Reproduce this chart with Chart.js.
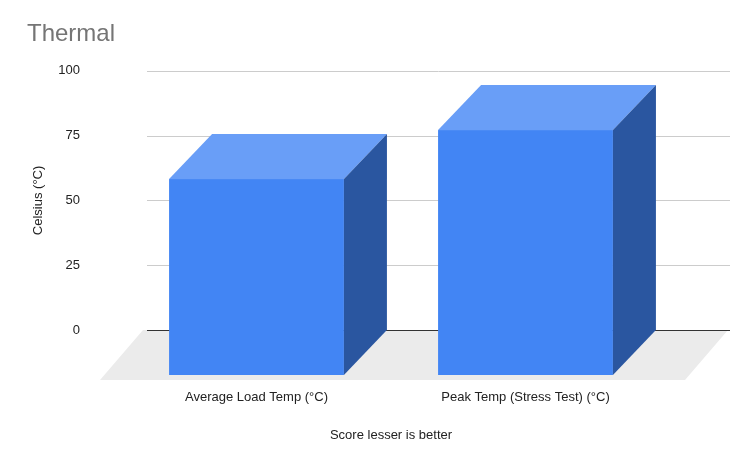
<!DOCTYPE html>
<html>
<head>
<meta charset="utf-8">
<script src="https://cdn.jsdelivr.net/npm/chart.js@4"></script>
<style>
  body { margin: 0; background: #fff; }
  #wrap { width: 754px; height: 468px; }
</style>
</head>
<body>
<div id="wrap"><canvas id="thermal"></canvas></div>
<script>
const categories = ['Average Load Temp (°C)', 'Peak Temp (Stress Test) (°C)'];
const temps = [60, 75];
const yTicks = [0, 25, 50, 75, 100];

const FRONT = '#4285f4', TOP = '#699ef7', SIDE = '#2a56a0';
const DX = 43, DY = 45, FRONT_SCALE = 1.26;

// floor, back grid lines and the 3d bars, all from the chart's scales
const fake3d = {
  id: 'fake3d',
  beforeDatasetsDraw(chart) {
    const c = chart.ctx, a = chart.chartArea, y = chart.scales.y;
    c.save();
    c.fillStyle = '#ebebeb';
    c.beginPath();
    c.moveTo(a.left - 22, a.bottom + 50);
    c.lineTo(a.right + 25, a.bottom + 50);
    c.lineTo(a.right + 25 + DX, a.bottom);
    c.lineTo(a.left - 22 + DX, a.bottom);
    c.closePath();
    c.fill();
    for (const t of yTicks) {
      const py = Math.round(y.getPixelForValue(t)) + 0.5;
      c.strokeStyle = t === 0 ? '#333333' : '#cccccc';
      c.lineWidth = 1;
      c.beginPath();
      c.moveTo(a.left + 25, py);
      c.lineTo(a.right + 70, py);
      c.stroke();
    }
    c.restore();
  },
  afterDatasetsDraw(chart) {
    const c = chart.ctx, y = chart.scales.y, a = chart.chartArea;
    const meta = chart.getDatasetMeta(0);
    c.save();
    meta.data.forEach((bar) => {
      const w = bar.width;
      const x0 = bar.x - w / 2, x1 = bar.x + w / 2;
      const base = a.bottom + DY;
      const top = base - (y.getPixelForValue(0) - bar.y) * FRONT_SCALE;
      c.fillStyle = FRONT;
      c.fillRect(x0, top, w, base - top);
      c.fillStyle = TOP;
      c.beginPath();
      c.moveTo(x0, top); c.lineTo(x1, top);
      c.lineTo(x1 + DX, top - DY); c.lineTo(x0 + DX, top - DY);
      c.closePath(); c.fill();
      c.fillStyle = SIDE;
      c.beginPath();
      c.moveTo(x1, top); c.lineTo(x1 + DX, top - DY);
      c.lineTo(x1 + DX, base - DY); c.lineTo(x1, base);
      c.closePath(); c.fill();
    });
    c.restore();
  }
};

new Chart(document.getElementById('thermal'), {
  type: 'bar',
  data: {
    labels: categories,
    datasets: [{ data: temps, backgroundColor: 'rgba(0,0,0,0)', barPercentage: 0.65, categoryPercentage: 1 }]
  },
  plugins: [fake3d],
  options: {
    responsive: true,
    maintainAspectRatio: false,
    animation: false,
    layout: { padding: { left: 27, right: 94, bottom: 21 } },
    plugins: {
      legend: { display: false },
      tooltip: { enabled: false },
      title: {
        display: true, text: 'Thermal', align: 'start', color: '#757575',
        font: { family: 'Liberation Sans', size: 24, weight: 'normal' },
        padding: { top: 20, bottom: 22 }
      }
    },
    scales: {
      x: {
        afterFit: (s) => { s.height = 117; },
        grid: { display: false }, border: { display: false },
        ticks: { color: '#222', padding: 52, font: { family: 'Liberation Sans', size: 13 } },
        title: { display: true, text: 'Score lesser is better', color: '#222', padding: { top: 20 },
          font: { family: 'Liberation Sans', size: 13 } }
      },
      y: {
        min: 0, max: 100,
        afterBuildTicks: (s) => { s.ticks = yTicks.map(v => ({ value: v })); },
        afterFit: (s) => { s.width = 95; },
        grid: { display: false }, border: { display: false },
        ticks: { color: '#222', padding: 34, font: { family: 'Liberation Sans', size: 13 } },
        title: { display: true, text: 'Celsius (°C)', color: '#222', font: { family: 'Liberation Sans', size: 13 } }
      }
    }
  }
});
</script>
</body>
</html>
